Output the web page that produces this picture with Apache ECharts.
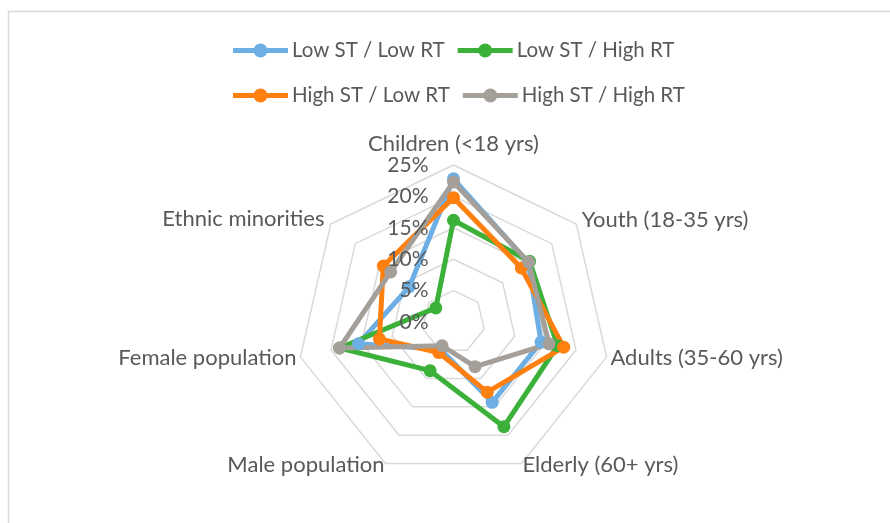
<!DOCTYPE html>
<html>
<head>
<meta charset="utf-8">
<script src="https://cdn.jsdelivr.net/npm/echarts@6/dist/echarts.min.js"></script>
<style>
html, body { margin: 0; padding: 0; background: #fff; }
#chart { width: 890px; height: 523px; }
</style>
</head>
<body>
<div id="chart"></div>
<script>
// axes of the radar, clockwise from the top
var indicatorNames = ['Children (<18 yrs)', 'Youth (18-35 yrs)', 'Adults (35-60 yrs)',
  'Elderly (60+ yrs)', 'Male population', 'Female population', 'Ethnic minorities'];
var seriesNames = ['Low ST / Low RT', 'Low ST / High RT', 'High ST / Low RT', 'High ST / High RT'];

// values in %
var lowStLowRt   = [22.8, 15.2, 14.3, 14.2, 4.8, 15.5, 9.0];
var lowStHighRt  = [16.2, 15.5, 17.0, 18.5, 8.6, 18.6, 3.6];
var highStLowRt  = [19.8, 13.8, 18.0, 12.4, 5.4, 12.1, 14.3];
var highStHighRt = [22.3, 15.3, 15.6, 7.9, 4.2, 18.6, 12.8];

var axisMax = 25;
var axisStep = 5;

var colors = ['#6daee5', '#3bb13a', '#ff7f0f', '#a59f99'];
var textColor = '#595959';
var font = 'Lato';

// echarts lays radar axes out counter-clockwise, so walk the list backwards after the first
var order = [0, 6, 5, 4, 3, 2, 1];
var nameGaps = [10, 7, 4, 2, 2, 4, 8];

var indicator = order.map(function (k, i) {
  var ind = { name: indicatorNames[k], max: axisMax, min: 0, nameGap: nameGaps[k] };
  if (i > 0) ind.nameTextStyle = { verticalAlign: 'middle' };
  return ind;
});

// same axes again, only for the % labels drawn above the lines
var labelIndicator = order.map(function (k, i) {
  var ind = { name: indicatorNames[k], max: axisMax, min: 0 };
  if (i === 0) ind.axisLabel = { show: true };
  return ind;
});

var values = [lowStLowRt, lowStHighRt, highStLowRt, highStHighRt];

// legend icon: line with a round marker in the middle
var legendIcon = 'path://M0,-2.5 L21,-2.5 L21,2.5 L0,2.5 Z M34,-2.5 L55,-2.5 L55,2.5 L34,2.5 Z ' +
  'M20.5,0 A7,7 0 1,1 34.5,0 A7,7 0 1,1 20.5,0 Z';

var chart = echarts.init(document.getElementById('chart'), null, { renderer: 'canvas' });

var legendBase = {
  left: 228,
  icon: legendIcon,
  itemWidth: 55, itemHeight: 14, itemGap: 13,
  textStyle: { color: textColor, fontSize: 20.5, fontFamily: font, padding: [0, 0, 0, -1] }
};

var radarBase = {
  center: [453.5, 322],
  radius: 157,
  startAngle: 90,
  shape: 'polygon',
  splitNumber: axisMax / axisStep,
  axisLine: { show: false },
  axisTick: { show: false },
  splitArea: { show: false }
};

chart.setOption({
  animation: false,
  color: colors,
  textStyle: { fontFamily: font },
  graphic: [{
    type: 'rect',
    shape: { x: 8.5, y: 11.5, width: 900, height: 600 },
    style: { fill: 'none', stroke: '#d9d9d9', lineWidth: 1.5 },
    silent: true
  }],
  legend: [
    echarts.util.merge({ data: seriesNames.slice(0, 2), top: 35 }, legendBase),
    echarts.util.merge({ data: seriesNames.slice(2, 4), top: 80 }, legendBase)
  ],
  radar: [
    echarts.util.merge({
      indicator: indicator,
      axisName: { color: textColor, fontSize: 22, fontFamily: font },
      axisLabel: { show: false },
      splitLine: { lineStyle: { color: '#d9d9d9', width: 1.5 } }
    }, radarBase),
    echarts.util.merge({
      z: 10,
      indicator: labelIndicator,
      axisName: { show: false },
      splitLine: { show: false },
      axisLabel: {
        show: false,
        color: textColor,
        fontSize: 21,
        fontFamily: font,
        margin: 25,
        formatter: function (v) { return v + '%'; }
      }
    }, radarBase)
  ],
  series: [{
    type: 'radar',
    radarIndex: 0,
    symbol: 'circle',
    symbolSize: 13,
    data: seriesNames.map(function (n, i) {
      return {
        name: n,
        value: order.map(function (k) { return values[i][k]; }),
        itemStyle: { color: colors[i] },
        lineStyle: { color: colors[i], width: 5 }
      };
    })
  }]
});
</script>
</body>
</html>
